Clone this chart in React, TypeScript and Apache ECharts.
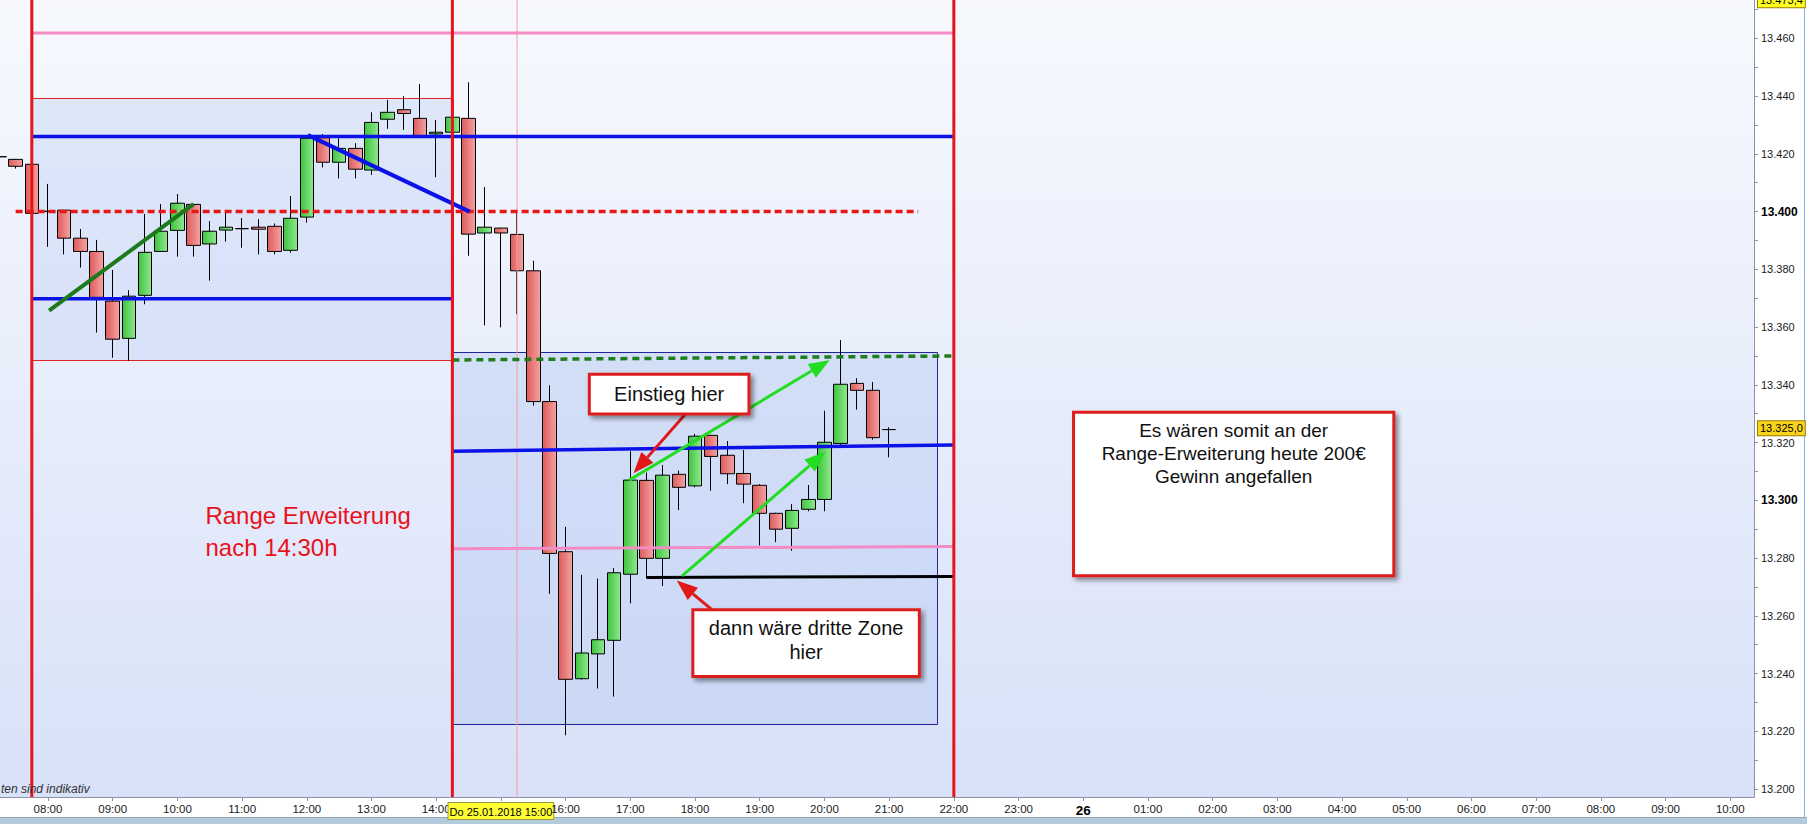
import React, { useEffect, useRef } from "react";
import * as echarts from "echarts";

// ---------- data ----------
const candleTimes = [
  "07:15","07:30","07:45","08:00","08:15","08:30","08:45","09:00","09:15","09:30","09:45",
  "10:00","10:15","10:30","10:45","11:00","11:15","11:30","11:45","12:00","12:15","12:30",
  "12:45","13:00","13:15","13:30","13:45","14:00","14:15","14:30","14:45","15:00","15:15",
  "15:30","15:45","16:00","16:15","16:30","16:45","17:00","17:15","17:30","17:45","18:00",
  "18:15","18:30","18:45","19:00","19:15","19:30","19:45","20:00","20:15","20:30","20:45","21:00",
];
const opens = [
  13.4190,13.4181,13.4164,13.4001,13.4005,13.3908,13.3862,13.3690,13.3561,13.3710,13.3862,
  13.3935,13.4025,13.3888,13.3936,13.3941,13.3946,13.3949,13.3866,13.3981,13.4256,13.4171,
  13.4219,13.4144,13.4320,13.4353,13.4323,13.4269,13.4275,13.4323,13.3926,13.3943,13.3921,
  13.3795,13.3342,13.2822,13.2382,13.2468,13.2515,13.2744,13.3069,13.2799,13.3090,13.3050,
  13.3225,13.3156,13.3093,13.3052,13.2955,13.2903,13.2969,13.3003,13.3197,13.3405,13.3381,13.3245,
];
const closes = [
  13.4190,13.4157,13.3994,13.4001,13.3908,13.3862,13.3703,13.3558,13.3707,13.3859,13.3932,
  13.4029,13.3883,13.3932,13.3946,13.3941,13.3939,13.3862,13.3977,13.4254,13.4171,13.4219,
  13.4147,13.4309,13.4344,13.4340,13.4262,13.4275,13.4327,13.3922,13.3946,13.3926,13.3795,
  13.3342,13.2816,13.2380,13.2471,13.2517,13.2749,13.3070,13.2799,13.3087,13.3045,13.3222,
  13.3152,13.3092,13.3056,13.2955,13.2900,13.2965,13.3003,13.3201,13.3402,13.3381,13.3217,13.3245,
];
const lows = [
  13.4180,13.4149,13.3990,13.3878,13.3852,13.3806,13.3581,13.3494,13.3483,13.3679,13.3860,
  13.3844,13.3844,13.3761,13.3896,13.3875,13.3852,13.3852,13.3858,13.3962,13.4153,13.4115,
  13.4115,13.4127,13.4287,13.4283,13.4261,13.4119,13.4274,13.3847,13.3606,13.3599,13.3645,
  13.3328,13.2676,13.2186,13.2379,13.2348,13.2320,13.2643,13.2730,13.2703,13.2966,13.3045,
  13.3033,13.3056,13.2990,13.2843,13.2855,13.2825,13.2962,13.2962,13.3192,13.3314,13.3210,13.3149,
];
const highs = [
  13.4200,13.4182,13.4166,13.4096,13.4006,13.3940,13.3902,13.3798,13.3728,13.3992,13.4026,
  13.4061,13.4027,13.3967,13.4006,13.3978,13.3974,13.3959,13.4054,13.4256,13.4269,13.4254,
  13.4237,13.4344,13.4387,13.4400,13.4442,13.4317,13.4328,13.4448,13.4085,13.3944,13.4000,
  13.3830,13.3398,13.2908,13.2742,13.2729,13.2765,13.3170,13.3096,13.3122,13.3103,13.3230,
  13.3227,13.3205,13.3174,13.3056,13.2957,13.2987,13.3053,13.3310,13.3555,13.3423,13.3410,13.3253,
];

const priceTickLabels = [
  "13.200","13.220","13.240","13.260","13.280","13.300","13.320",
  "13.340","13.360","13.380","13.400","13.420","13.440","13.460",
];
const priceMinorTicks = [
  13.20,13.21,13.22,13.23,13.24,13.25,13.26,13.27,13.28,13.29,13.30,13.31,13.32,13.33,
  13.34,13.35,13.36,13.37,13.38,13.39,13.40,13.41,13.42,13.43,13.44,13.45,13.46,13.47,
];
const boldPriceLabels = ["13.300", "13.400"];

const timeTickTimes = [
  "08:00","09:00","10:00","11:00","12:00","13:00","14:00","15:00","16:00","17:00","18:00",
  "19:00","20:00","21:00","22:00","23:00","24:00","25:00","26:00","27:00","28:00","29:00",
  "30:00","31:00","32:00","33:00","34:00",
];
const timeTickLabels = [
  "08:00","09:00","10:00","11:00","12:00","13:00","14:00","Do 25.01.2018 15:00","16:00","17:00","18:00",
  "19:00","20:00","21:00","22:00","23:00","26","01:00","02:00","03:00","04:00","05:00",
  "06:00","07:00","08:00","09:00","10:00",
];

const lastPrice = 13.325;
const lastPriceLabel = "13.325,0";
const topPrice = 13.4732;
const topPriceLabel = "13.473,4";

// session / annotation geometry in data units (time, price)
const sessionLines = ["07:45", "14:15", "22:00"];
const cursorTime = "15:15";
const rangeBoxes = [
  [["07:45", 13.3483], ["14:15", 13.4392]],
  [["14:15", 13.2226], ["21:45", 13.3515]],
];
const pinkTopLine = [["07:45", 13.4619], ["22:00", 13.4619]];
const blueUpperLine = [["07:45", 13.4260], ["22:00", 13.4260]];
const blueLowerLine = [["07:45", 13.3698], ["14:15", 13.3698]];
const redDashedLine = [["07:30", 13.4000], ["21:27", 13.4000]];
const greenTrendLine = [["08:01", 13.3657], ["10:15", 13.4026]];
const blueDiagLine = [["12:01", 13.4265], ["14:31", 13.4000]];
const greenDashedLine = [["14:15", 13.3486], ["22:00", 13.3500]];
const blueRightLine = [["14:15", 13.3170], ["22:00", 13.3192]];
const pinkLowLine = [["14:15", 13.2832], ["22:00", 13.2840]];
const blackLine = [["17:15", 13.2733], ["22:00", 13.2736]];

const arrowSegments = [
  [["16:59", 13.3070], ["20:05", 13.3486]],
  [["17:48", 13.2738], ["20:01", 13.3168]],
  [["17:53", 13.3307], ["17:03", 13.3094]],
  [["18:31", 13.2574], ["17:43", 13.2722]],
];

const noteBoxes = [
  [["16:22", 13.3299], ["18:50", 13.3437]],
  [["17:58", 13.2390], ["21:28", 13.2621]],
  [["23:51", 13.2739], ["28:48", 13.3305]],
];
const noteTexts = [
  "Einstieg hier",
  "dann wäre dritte Zone\nhier",
  "Es wären somit an der\nRange-Erweiterung heute 200€\nGewinn angefallen",
];
const rangeTextAnchor = ["10:26", 13.3003];
const rangeText = "Range Erweiterung\nnach 14:30h";

// ---------- helpers ----------
const toMin = (s: string) => {
  const [h, m] = s.split(":").map(Number);
  return h * 60 + m;
};
const seg = (pts: any[]) => pts.map(([t, p]: any) => [toMin(t), p]);

const X_MIN = 435.5;
const X_MAX = 2062;
const Y_MIN = 13.19723;
const Y_MAX = 13.4733;

const SANS = '"Liberation Sans", Arial, Helvetica, sans-serif';

export default function App() {
  const ref = useRef<HTMLDivElement>(null);

  useEffect(() => {
    if (!ref.current) return;
    const chart = echarts.init(ref.current, undefined, { renderer: "svg" });

    const candleData = candleTimes.map((t, i) => [toMin(t), opens[i], closes[i], lows[i], highs[i]]);
    const timeTickMins = timeTickTimes.map(toMin);
    const priceTickVals = priceTickLabels.map(Number);

    const lineSeries = (pts: any[], color: string, width: number, type: any = "solid", z = 5) => ({
      type: "line",
      data: seg(pts),
      showSymbol: false,
      symbol: "none",
      silent: true,
      z,
      lineStyle: { color, width, type, cap: "butt" },
    });

    const boxStyles = [
      { fill: "rgba(176,196,242,0.30)", stroke: "#e02424" },
      { fill: "rgba(176,196,242,0.38)", stroke: "#23239a" },
    ];
    const arrowColors = ["#22dd22", "#22dd22", "#e01818", "#e01818"];

    const priceLabelBase = {
      show: true,
      position: "end",
      distance: 4,
      color: "#000",
      fontSize: 11,
      fontFamily: SANS,
      opacity: 1,
      borderColor: "#a07a00",
      borderWidth: 1,
      padding: [2, 2, 1, 2],
    };

    const option: any = {
      animation: false,
      backgroundColor: "#ffffff",
      grid: {
        left: 0,
        right: 53,
        top: 0,
        bottom: 27,
        show: true,
        borderWidth: 0,
        backgroundColor: new echarts.graphic.LinearGradient(0, 0, 0, 1, [
          { offset: 0, color: "#f7f9fe" },
          { offset: 1, color: "#d8e1f8" },
        ]),
      },
      xAxis: {
        type: "value",
        min: X_MIN,
        max: X_MAX,
        z: 5,
        splitLine: { show: false },
        axisLine: { show: true, lineStyle: { color: "#8a94a6", width: 1 } },
        axisTick: { show: true, length: 4, customValues: timeTickMins, lineStyle: { color: "#8a94a6" } },
        axisLabel: {
          customValues: timeTickMins,
          margin: 6,
          color: "#1a1a1a",
          fontSize: 11.5,
          fontFamily: SANS,
          formatter: (v: number) => {
            const i = timeTickMins.findIndex((m) => Math.abs(m - v) < 0.5);
            if (i < 0) return "";
            const lab = timeTickLabels[i];
            if (lab.startsWith("Do")) return `{cur|${lab}}`;
            if (lab === "26") return `{day|${lab}}`;
            return lab;
          },
          rich: {
            cur: {
              backgroundColor: "#ffff36",
              borderColor: "#9a9a3a",
              borderWidth: 1,
              padding: [3, 1, 2, 1],
              color: "#000",
              fontSize: 11,
              fontFamily: SANS,
            },
            day: { fontWeight: "bold", fontSize: 13.5, color: "#000", fontFamily: SANS },
          },
        },
      },
      yAxis: {
        type: "value",
        position: "right",
        min: Y_MIN,
        max: Y_MAX,
        scale: true,
        splitLine: { show: false },
        axisLine: { show: true, lineStyle: { color: "#8a94a6", width: 1 } },
        axisTick: { show: true, length: 4, customValues: priceMinorTicks, lineStyle: { color: "#8a94a6" } },
        axisLabel: {
          customValues: priceTickVals,
          margin: 7,
          color: "#1a1a1a",
          fontSize: 11,
          fontFamily: SANS,
          formatter: (v: number) => {
            const i = priceTickVals.findIndex((p) => Math.abs(p - v) < 0.001);
            if (i < 0) return "";
            const lab = priceTickLabels[i];
            return boldPriceLabels.includes(lab) ? `{b|${lab}}` : lab;
          },
          rich: { b: { fontWeight: "bold", fontSize: 12, color: "#000", fontFamily: SANS } },
        },
      },
      graphic: [
        { type: "rect", left: 0, top: 818, shape: { width: 1807, height: 6 }, style: { fill: "#b3cbdc" }, z: -10 },
        { type: "rect", left: 0, top: 817, shape: { width: 1807, height: 1 }, style: { fill: "#8fa8bb" }, z: -10 },
        { type: "rect", left: 1804, top: 0, shape: { width: 1, height: 817 }, style: { fill: "#8eb0d2" }, z: -10 },
        {
          type: "text",
          left: 1,
          top: 783,
          style: { text: "ten sind indikativ", fill: "#333", font: `italic 12px ${SANS}` },
          z: 100,
        },
      ],
      series: [
        {
          type: "custom",
          name: "rangeBoxes",
          z: 1,
          silent: true,
          data: rangeBoxes.map((b: any) => [toMin(b[0][0]), b[0][1], toMin(b[1][0]), b[1][1]]),
          encode: { x: [0, 2], y: [1, 3] },
          renderItem: (params: any, api: any) => {
            const a = api.coord([api.value(0), api.value(1)]);
            const b = api.coord([api.value(2), api.value(3)]);
            const st = boxStyles[params.dataIndex];
            return {
              type: "rect",
              shape: {
                x: Math.round(Math.min(a[0], b[0])) + 0.5,
                y: Math.round(Math.min(a[1], b[1])) + 0.5,
                width: Math.round(Math.abs(b[0] - a[0])),
                height: Math.round(Math.abs(b[1] - a[1])),
              },
              style: { fill: st.fill, stroke: st.stroke, lineWidth: 1 },
            };
          },
        },
        {
          type: "candlestick",
          name: "FDAX",
          z: 3,
          data: candleData,
          encode: { x: 0, y: [1, 2, 3, 4] },
          barWidth: 14,
          silent: true,
          itemStyle: {
            color: new echarts.graphic.LinearGradient(0, 0, 1, 0, [
              { offset: 0, color: "#3fc43f" },
              { offset: 1, color: "#8fe88f" },
            ]),
            color0: new echarts.graphic.LinearGradient(0, 0, 1, 0, [
              { offset: 0, color: "#dd5c5c" },
              { offset: 1, color: "#f4a2a2" },
            ]),
            borderColor: "#000",
            borderColor0: "#000",
            borderColorDoji: "#000",
            borderWidth: 1,
          },
        },
        // price markers at the right axis
        {
          type: "line",
          name: "priceMarkers",
          data: [],
          z: 20,
          silent: true,
          markLine: {
            silent: true,
            precision: 4,
            symbol: ["none", "none"],
            animation: false,
            lineStyle: { color: "rgba(0,0,0,0)", width: 1, type: "solid" },
            data: [
              {
                yAxis: lastPrice,
                label: { ...priceLabelBase, formatter: lastPriceLabel, backgroundColor: "#f8d41e" },
              },
              {
                yAxis: topPrice,
                label: { ...priceLabelBase, formatter: topPriceLabel, backgroundColor: "#ffff20" },
              },
            ],
          },
        },
        // session verticals and cursor
        ...sessionLines.map((t) => lineSeries([[t, Y_MIN], [t, Y_MAX]], "#e8141c", 3, "solid", 6)),
        lineSeries([[cursorTime, Y_MIN], [cursorTime, Y_MAX]], "#f2a0a0", 1, "solid", 4),
        lineSeries(pinkTopLine, "#f48bc4", 3),
        lineSeries(blueUpperLine, "#0a12e8", 3.5),
        lineSeries(blueLowerLine, "#0a12e8", 3.5),
        lineSeries(redDashedLine, "#e81818", 3.5, [7, 4]),
        lineSeries(greenTrendLine, "#1b7a1b", 4),
        lineSeries(blueDiagLine, "#0a12e8", 4),
        lineSeries(greenDashedLine, "#1e7e1e", 3.5, [7, 5]),
        lineSeries(blueRightLine, "#0a12e8", 3.5),
        lineSeries(pinkLowLine, "#f48bc4", 3),
        lineSeries(blackLine, "#000000", 3),
        {
          type: "custom",
          name: "arrows",
          z: 8,
          silent: true,
          data: arrowSegments.map((s: any) => [toMin(s[0][0]), s[0][1], toMin(s[1][0]), s[1][1]]),
          encode: { x: [0, 2], y: [1, 3] },
          renderItem: (params: any, api: any) => {
            const p0 = api.coord([api.value(0), api.value(1)]);
            const p1 = api.coord([api.value(2), api.value(3)]);
            const dx = p1[0] - p0[0];
            const dy = p1[1] - p0[1];
            const len = Math.hypot(dx, dy) || 1;
            const ux = dx / len;
            const uy = dy / len;
            const headL = 21;
            const headW = 8;
            const bx = p1[0] - ux * headL;
            const by = p1[1] - uy * headL;
            const color = arrowColors[params.dataIndex];
            return {
              type: "group",
              children: [
                { type: "line", shape: { x1: p0[0], y1: p0[1], x2: bx, y2: by }, style: { stroke: color, lineWidth: 3 } },
                {
                  type: "polygon",
                  shape: { points: [[p1[0], p1[1]], [bx - uy * headW, by + ux * headW], [bx + uy * headW, by - ux * headW]] },
                  style: { fill: color },
                },
              ],
            };
          },
        },
        {
          type: "custom",
          name: "notes",
          z: 10,
          silent: true,
          data: noteBoxes.map((b: any) => [toMin(b[0][0]), b[0][1], toMin(b[1][0]), b[1][1]]),
          encode: { x: [0, 2], y: [1, 3] },
          renderItem: (params: any, api: any) => {
            const a = api.coord([api.value(0), api.value(1)]);
            const b = api.coord([api.value(2), api.value(3)]);
            const x = Math.min(a[0], b[0]);
            const y = Math.min(a[1], b[1]);
            const w = Math.abs(b[0] - a[0]);
            const h = Math.abs(b[1] - a[1]);
            const idx = params.dataIndex;
            const isBig = idx === 2;
            return {
              type: "group",
              children: [
                {
                  type: "rect",
                  shape: { x, y, width: w, height: h },
                  style: {
                    fill: "#ffffff",
                    stroke: "#dd1f1f",
                    lineWidth: 3,
                    shadowBlur: 5,
                    shadowOffsetX: 3,
                    shadowOffsetY: 3,
                    shadowColor: "rgba(0,0,0,0.45)",
                  },
                },
                {
                  type: "text",
                  x: x + w / 2,
                  y: isBig ? y + 7 : y + h / 2 - (idx === 1 ? 3 : 0),
                  style: {
                    text: noteTexts[idx],
                    fill: "#111",
                    fontSize: isBig ? 19 : 20,
                    fontFamily: SANS,
                    align: "center",
                    verticalAlign: isBig ? "top" : "middle",
                    lineHeight: isBig ? 23 : 24,
                  },
                },
              ],
            };
          },
        },
        {
          type: "custom",
          name: "rangeLabel",
          z: 10,
          silent: true,
          data: [[toMin(rangeTextAnchor[0] as string), rangeTextAnchor[1]]],
          renderItem: (params: any, api: any) => {
            const p = api.coord([api.value(0), api.value(1)]);
            return {
              type: "text",
              x: p[0],
              y: p[1],
              style: {
                text: rangeText,
                fill: "#e8121a",
                fontSize: 24,
                fontFamily: SANS,
                align: "left",
                verticalAlign: "top",
                lineHeight: 32,
              },
            };
          },
        },
      ],
    };

    chart.setOption(option);
    return () => chart.dispose();
  }, []);

  return (
    <div
      ref={ref}
      style={{ position: "absolute", left: 0, top: 0, width: 1807, height: 824, background: "#fff" }}
    />
  );
}
